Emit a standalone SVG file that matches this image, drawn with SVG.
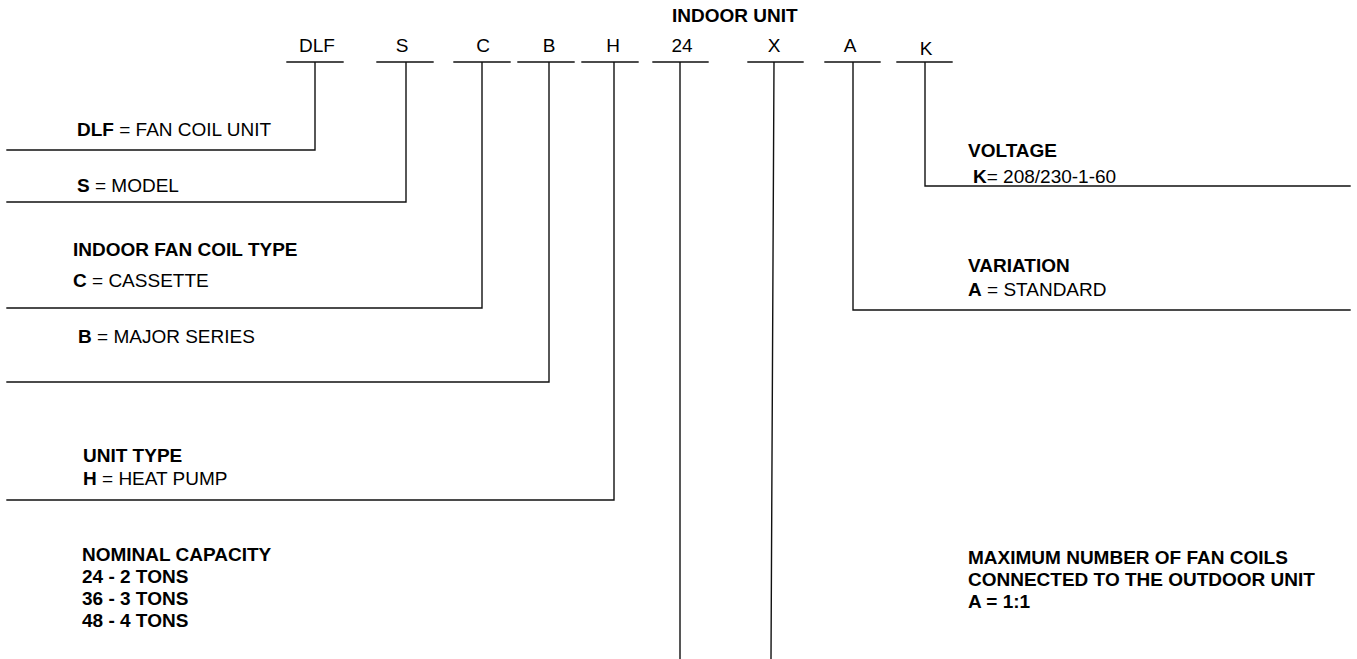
<svg xmlns="http://www.w3.org/2000/svg" width="1357" height="659" viewBox="0 0 1357 659">
<style>
  text { font-family: "Liberation Sans", Arial, sans-serif; font-size: 19px; fill: #000; }
  .b { font-weight: bold; }
  .code { text-anchor: middle; }
  .ln { stroke: #111; stroke-width: 1.4; fill: none; stroke-linecap: square; }
</style>
<rect width="1357" height="659" fill="#fff"/>
<g id="title"><text class="b" x="672" y="22">INDOOR UNIT</text></g>

<g id="connectors">
  <path class="ln" d="M287 62H343 M315 62V150H7"/>
  <path class="ln" d="M377 62H433 M406 62V202H7"/>
  <path class="ln" d="M454 62H510 M482 62V308H7"/>
  <path class="ln" d="M518 62H574 M549 62V382H7"/>
  <path class="ln" d="M582 62H638 M614 62V500H7"/>
  <path class="ln" d="M653 62H708 M680 62V659"/>
  <path class="ln" d="M748 62H803 M774 62L771 659"/>
  <path class="ln" d="M825 62H880 M853 62V310H1350"/>
  <path class="ln" d="M897 62H952 M925 62V186H1350"/>
</g>

<g id="node-dlf">
  <text class="code" x="317" y="52">DLF</text>
  <text x="77" y="136"><tspan class="b">DLF</tspan> = FAN COIL UNIT</text>
</g>
<g id="node-s">
  <text class="code" x="402" y="52">S</text>
  <text x="77" y="192"><tspan class="b">S</tspan> = MODEL</text>
</g>
<g id="node-c">
  <text class="code" x="483" y="52">C</text>
  <text class="b" x="73" y="256">INDOOR FAN COIL TYPE</text>
  <text x="73" y="287"><tspan class="b">C</tspan> = CASSETTE</text>
</g>
<g id="node-b">
  <text class="code" x="549" y="52">B</text>
  <text x="78" y="343"><tspan class="b">B</tspan> = MAJOR SERIES</text>
</g>
<g id="node-h">
  <text class="code" x="613" y="52">H</text>
  <text class="b" x="83" y="462">UNIT TYPE</text>
  <text x="83" y="485"><tspan class="b">H</tspan> = HEAT PUMP</text>
</g>
<g id="node-24">
  <text class="code" x="682" y="52">24</text>
  <text class="b" x="82" y="561">NOMINAL CAPACITY</text>
  <text class="b" x="82" y="583">24 - 2 TONS</text>
  <text class="b" x="82" y="605">36 - 3 TONS</text>
  <text class="b" x="82" y="627">48 - 4 TONS</text>
</g>
<g id="node-x">
  <text class="code" x="774" y="52">X</text>
  <text class="b" x="968" y="564">MAXIMUM NUMBER OF FAN COILS</text>
  <text class="b" x="968" y="586">CONNECTED TO THE OUTDOOR UNIT</text>
  <text class="b" x="968" y="608">A = 1:1</text>
</g>
<g id="node-a">
  <text class="code" x="850" y="52">A</text>
  <text class="b" x="968" y="272">VARIATION</text>
  <text x="968" y="296"><tspan class="b">A</tspan> = STANDARD</text>
</g>
<g id="node-k">
  <text class="code" x="926" y="55">K</text>
  <text class="b" x="968" y="157">VOLTAGE</text>
  <text x="973" y="183"><tspan class="b">K</tspan>= 208/230-1-60</text>
</g>
</svg>
